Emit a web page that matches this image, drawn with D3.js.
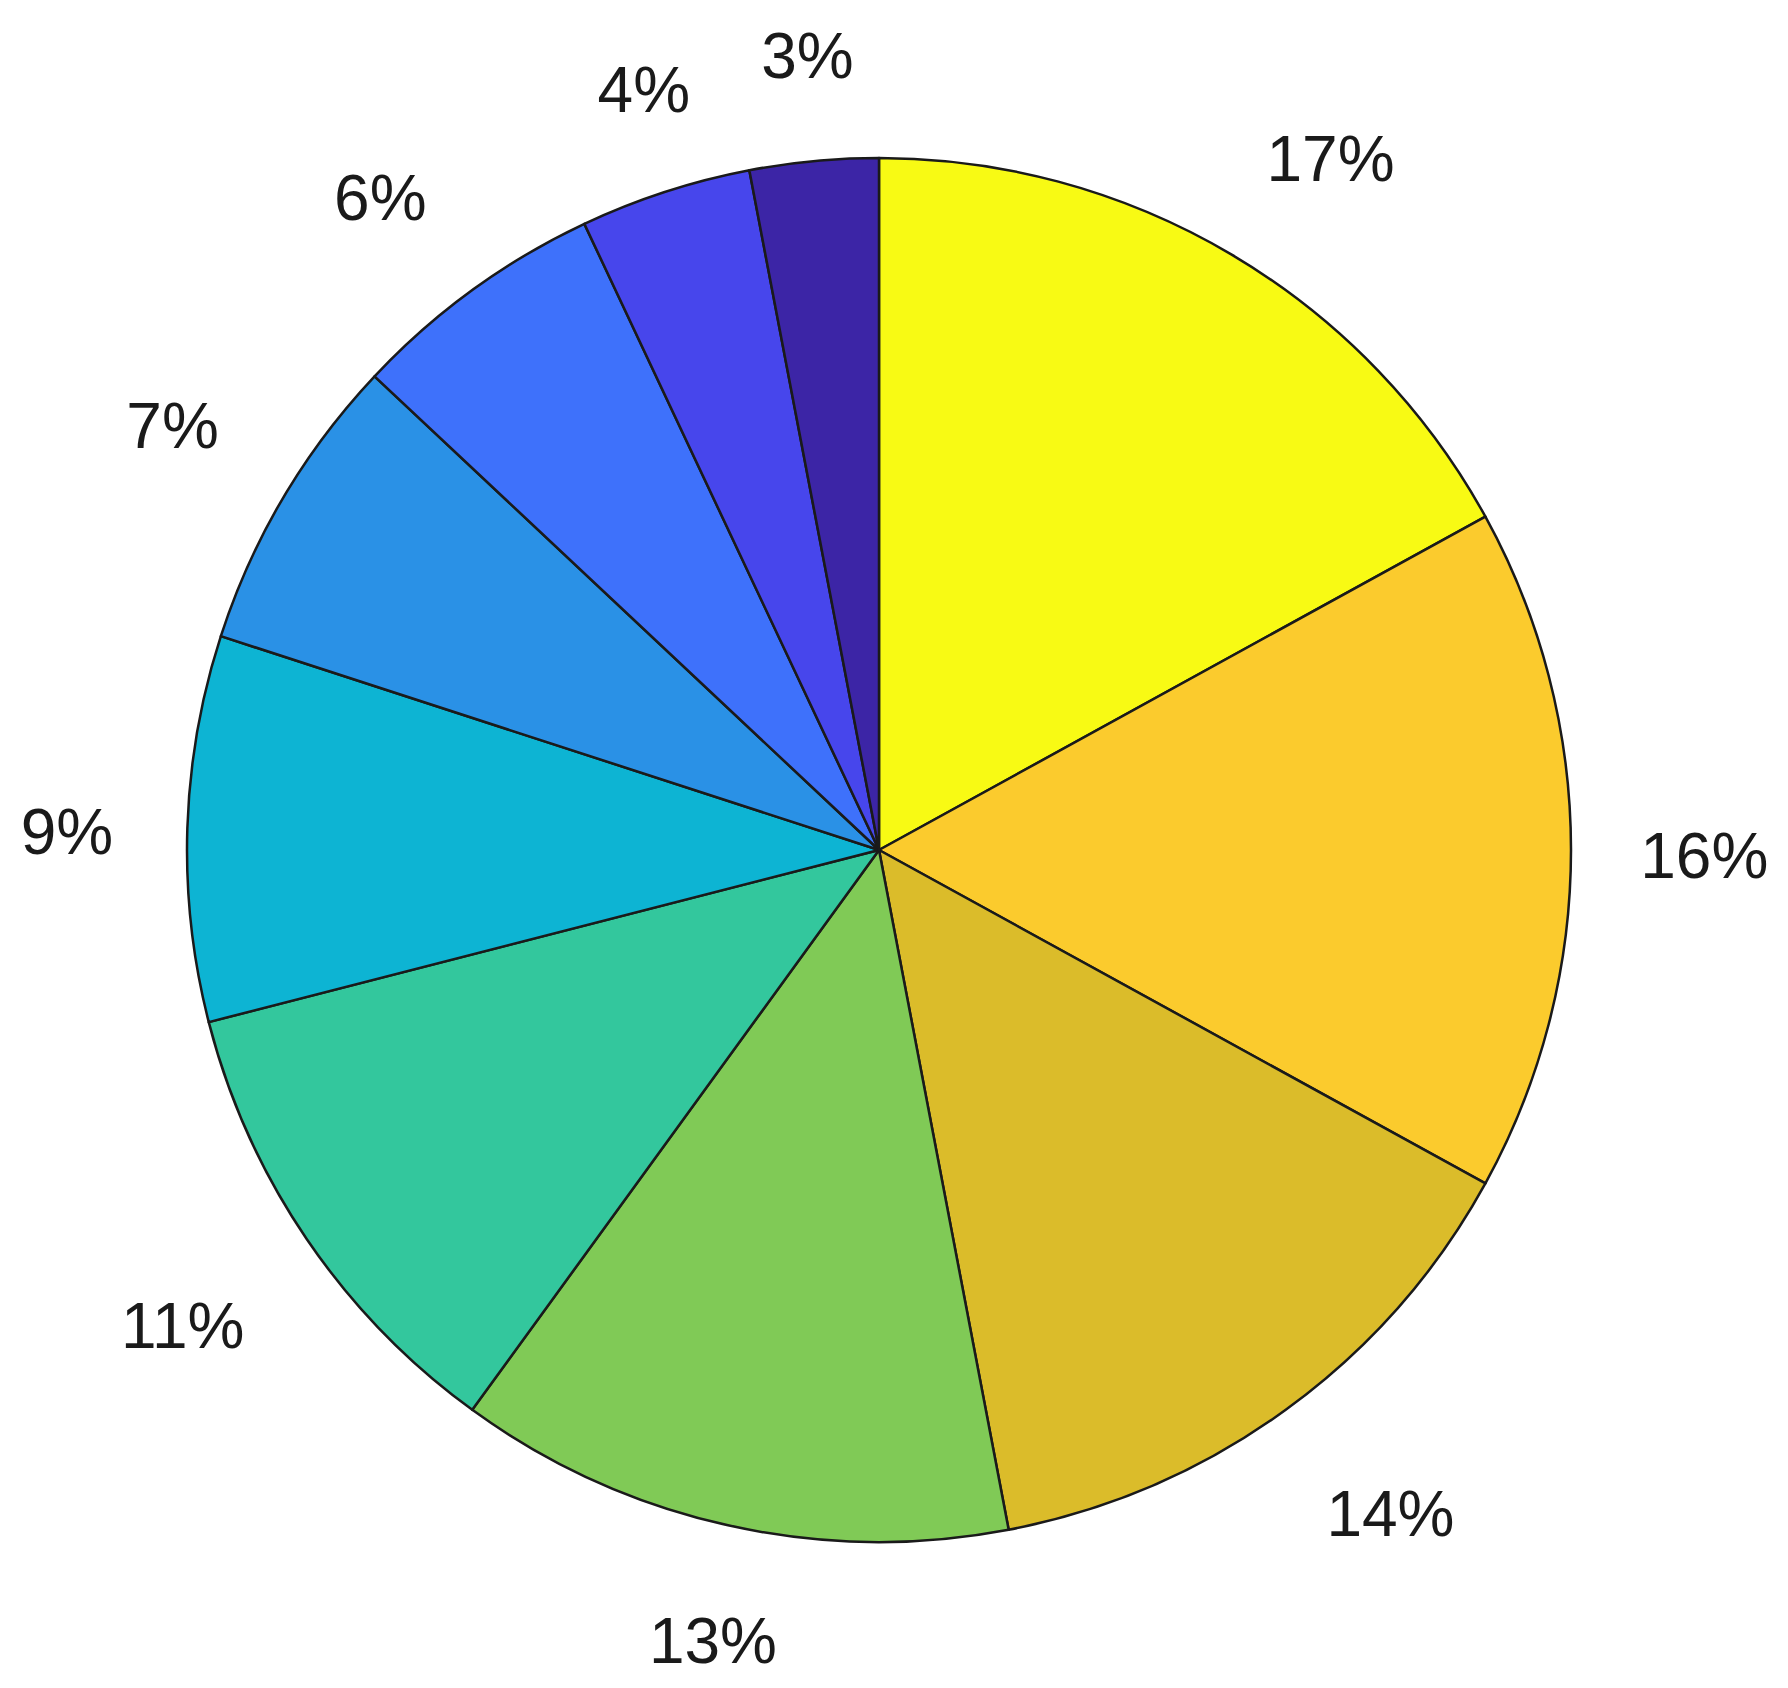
<!DOCTYPE html>
<html>
<head>
<meta charset="utf-8">
<script src="https://cdn.jsdelivr.net/npm/d3@7"></script>
<style>
  html, body { margin: 0; padding: 0; background: #fff; }
  svg text { font-family: "Liberation Sans", Arial, Helvetica, sans-serif; }
</style>
</head>
<body>
<div id="chart"></div>
<script>
// slices, clockwise from 12 o'clock
var labels = ["17%", "16%", "14%", "13%", "11%", "9%", "7%", "6%", "4%", "3%"];
var values = [17, 16, 14, 13, 11, 9, 7, 6, 4, 3];
var colors = ["#f8fa14", "#fbcb2d", "#dbbc2a", "#80ca56", "#33c79d",
              "#0db4d3", "#2a91e6", "#3e71fb", "#4746ec", "#3c25a6"];

var width = 1788, height = 1688,
    cx = 879, cy = 850,
    radius = 692,
    labelRadius = radius * 1.1,
    fontSize = 64;

var data = values.map(function(v, i) { return {value: v, label: labels[i], color: colors[i]}; });

var svg = d3.select("#chart")
  .append("svg")
  .attr("width", width)
  .attr("height", height);

svg.append("rect").attr("width", width).attr("height", height).attr("fill", "#fff");

var g = svg.append("g")
  .attr("transform", "translate(" + cx + "," + cy + ")");

var pie = d3.pie()
  .sort(null)
  .value(function(d) { return d.value; });

var arcs = pie(data);

var arc = d3.arc()
  .innerRadius(0)
  .outerRadius(radius);

var labelArc = d3.arc()
  .innerRadius(labelRadius)
  .outerRadius(labelRadius);

g.selectAll("path")
  .data(arcs)
  .enter()
  .append("path")
  .attr("d", arc)
  .attr("fill", function(d) { return d.data.color; })
  .attr("stroke", "#1a1a1a")
  .attr("stroke-width", 2.5)
  .attr("stroke-linejoin", "round");

// matlab-like placement: anchor at 1.1R, align away from the circle
function midAngle(d) { return (d.startAngle + d.endAngle) / 2; }
function hAlign(d) {
  var s = Math.sin(midAngle(d));
  if (Math.abs(s) < 0.38) return "middle";
  return s > 0 ? "start" : "end";
}

g.selectAll("text")
  .data(arcs)
  .enter()
  .append("text")
  .text(function(d) { return d.data.label; })
  .style("font-size", fontSize + "px")
  .attr("fill", "#1a1a1a")
  .attr("text-anchor", hAlign)
  .attr("x", function(d) {
    var p = labelArc.centroid(d);
    return hAlign(d) === "end" ? p[0] - 5 : p[0];
  })
  .attr("y", function(d) {
    var p = labelArc.centroid(d), c = Math.cos(midAngle(d));
    if (Math.abs(c) < 0.38) return p[1] + 0.44 * fontSize;
    return c > 0 ? p[1] - 0.22 * fontSize : p[1] + 1.1 * fontSize;
  });
</script>
</body>
</html>
